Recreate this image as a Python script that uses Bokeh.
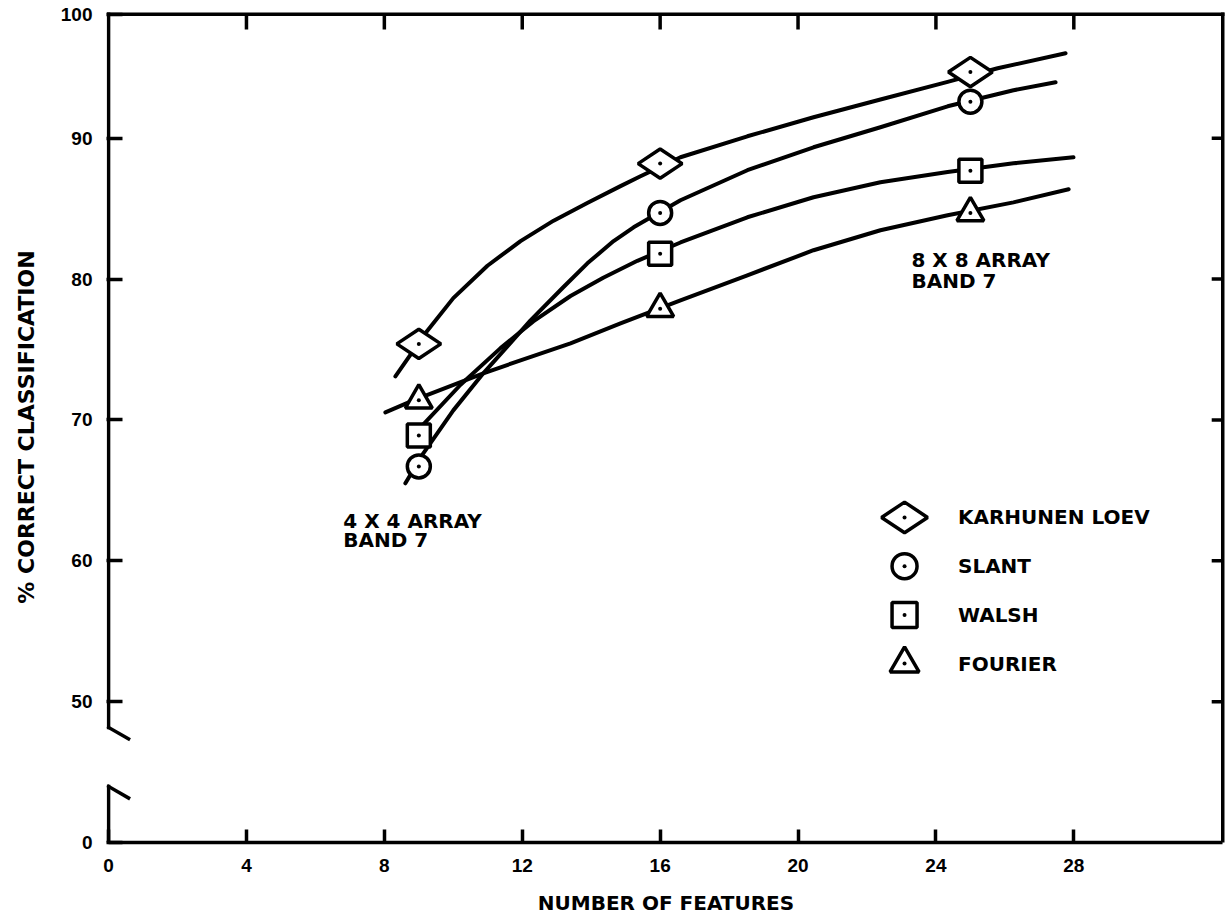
import math
from bokeh.plotting import figure
from bokeh.models import Range1d, FixedTicker
from bokeh.core.properties import value
from bokeh.embed import file_html
from bokeh.resources import INLINE

# ---------------- data ----------------
x_ticks = [0, 4, 8, 12, 16, 20, 24, 28]
y_ticks = [40, 50, 60, 70, 80, 90, 98.8]          # 40 is shown as "0" (broken axis)
y_tick_labels = {40: "0", 98.8: "100"}

feature_counts = [9, 16, 25]
kl_values = [75.4, 88.2, 94.7]
slant_values = [66.7, 84.7, 92.6]
walsh_values = [68.9, 81.8, 87.7]
fourier_values = [71.4, 77.9, 84.7]

kl_curve_x = [8.32, 9.19, 10.0, 10.99, 11.95, 12.91, 13.90, 14.85, 15.43, 16.59, 18.53, 20.45, 22.39, 24.34, 25.79, 27.76]
kl_curve_y = [73.1, 76.15, 78.65, 80.95, 82.7, 84.15, 85.42, 86.6, 87.3, 88.65, 90.14, 91.49, 92.75, 94.0, 94.97, 96.04]

slant_curve_x = [8.61, 9.13, 10.0, 10.87, 12.24, 13.19, 13.89, 14.65, 15.23, 16.59, 18.53, 20.45, 22.39, 24.34, 26.25, 27.47]
slant_curve_y = [65.5, 67.63, 70.68, 73.31, 77.07, 79.42, 81.12, 82.7, 83.68, 85.6, 87.73, 89.36, 90.78, 92.27, 93.41, 93.98]

walsh_curve_x = [9.05, 10.21, 11.37, 12.32, 13.40, 14.35, 15.34, 16.59, 18.53, 20.45, 22.39, 24.34, 26.25, 27.99]
walsh_curve_y = [69.47, 72.5, 75.1, 77.0, 78.8, 80.1, 81.3, 82.6, 84.39, 85.81, 86.88, 87.6, 88.22, 88.65]

fourier_curve_x = [8.03, 8.84, 10.87, 11.95, 13.40, 14.85, 16.59, 18.53, 20.45, 22.39, 24.34, 26.25, 27.85]
fourier_curve_y = [70.54, 71.39, 73.31, 74.23, 75.44, 76.86, 78.49, 80.27, 82.05, 83.47, 84.53, 85.45, 86.38]

legend_labels = ["KARHUNEN LOEV", "SLANT", "WALSH", "FOURIER"]
note_left = ["4 X 4 ARRAY", "BAND 7"]
note_right = ["8 X 8 ARRAY", "BAND 7"]

# ---------------- figure ----------------
TEXT_FONT = "DejaVu Sans"
TICK_FONT = "Liberation Sans"
BLACK = "#000000"
LW = 3.5

x_left, x_right = 0, 32.32          # drawn frame edges (data units)
y_bottom, y_top = 40, 98.8

p = figure(width=1227, height=919,
           x_range=Range1d(-0.06, 32.4), y_range=Range1d(y_bottom, 99.0),
           min_border_left=106, min_border_right=2, min_border_top=11, min_border_bottom=77,
           output_backend="svg", toolbar_location=None)
p.grid.visible = False
p.outline_line_color = None
p.background_fill_color = "white"
p.border_fill_color = "white"

# bottom axis
xa = p.xaxis[0]
xa.ticker = FixedTicker(ticks=x_ticks)
xa.bounds = (x_left, x_right)
xa.major_tick_in = 13
xa.major_tick_out = 0
xa.minor_tick_line_color = None
xa.major_tick_line_width = LW
xa.axis_line_width = LW
xa.axis_line_color = BLACK
xa.major_tick_line_color = BLACK
xa.major_label_text_font = TICK_FONT
xa.major_label_text_font_style = "bold"
xa.major_label_text_font_size = "19px"
xa.major_label_text_color = BLACK
xa.major_label_standoff = 16
xa.axis_label = "NUMBER OF FEATURES"
xa.axis_label_text_font = TEXT_FONT
xa.axis_label_text_font_style = "bold"
xa.axis_label_text_font_size = "20px"
xa.axis_label_text_color = BLACK
xa.axis_label_standoff = 16

# left axis (line drawn by hand to show the break)
ya = p.yaxis[0]
ya.ticker = FixedTicker(ticks=y_ticks)
ya.major_label_overrides = y_tick_labels
ya.major_tick_in = 16
ya.major_tick_out = 0
ya.minor_tick_line_color = None
ya.major_tick_line_width = LW
ya.major_tick_line_color = BLACK
ya.axis_line_color = None
ya.major_label_text_font = TICK_FONT
ya.major_label_text_font_style = "bold"
ya.major_label_text_font_size = "19px"
ya.major_label_text_color = BLACK
ya.major_label_standoff = 14
ya.axis_label = "% CORRECT CLASSIFICATION"
ya.axis_label_text_font = TEXT_FONT
ya.axis_label_text_font_style = "bold"
ya.axis_label_text_font_size = "22px"
ya.axis_label_text_color = BLACK
ya.axis_label_standoff = 19

# frame: left line with break, top and right lines
brk_low, brk_high, brk_dx, brk_dy = 43.98, 48.17, 0.58, 0.82
p.segment(x0=[x_left, x_left, x_left, x_left, x_left, x_right],
          y0=[y_bottom, brk_low, brk_high, brk_high, y_top, y_bottom],
          x1=[x_left, x_left + brk_dx, x_left, x_left + brk_dx, x_right, x_right],
          y1=[brk_low, brk_low - brk_dy, y_top, brk_high - brk_dy, y_top, y_top],
          line_color=BLACK, line_width=LW, line_cap="square")

# inward ticks on top and right edges
top_tick_len = 1.07      # data units (~15 px)
right_tick_len = 0.32    # data units (~11 px)
top_ticks = x_ticks[1:]
right_ticks = y_ticks[1:-1]
p.segment(x0=top_ticks, y0=[y_top] * len(top_ticks),
          x1=top_ticks, y1=[y_top - top_tick_len] * len(top_ticks),
          line_color=BLACK, line_width=LW)
p.segment(x0=[x_right] * len(right_ticks), y0=right_ticks,
          x1=[x_right - right_tick_len] * len(right_ticks), y1=right_ticks,
          line_color=BLACK, line_width=LW)

# curves
for cx, cy in [(kl_curve_x, kl_curve_y), (slant_curve_x, slant_curve_y),
               (walsh_curve_x, walsh_curve_y), (fourier_curve_x, fourier_curve_y)]:
    p.line(cx, cy, line_color=BLACK, line_width=4, line_join="round", line_cap="round")

# markers
marker_specs = [
    ("diamond", kl_values, 44, math.pi / 2),
    ("circle", slant_values, 23, 0),
    ("square", walsh_values, 23, 0),
    ("triangle", fourier_values, 27, 0),
]
for mk, vals, sz, ang in marker_specs:
    p.scatter(feature_counts, vals, marker=mk, size=sz, angle=ang,
              fill_color="white", line_color=BLACK, line_width=LW)
    p.scatter(feature_counts, vals, marker="circle", size=4, fill_color=BLACK, line_color=None)

# legend (hand-built key)
leg_x, leg_y0, leg_step, leg_text_dx = 23.09, 63.08, 3.46, 1.55
leg_y = [leg_y0 - i * leg_step for i in range(len(legend_labels))]
for i, (mk, vals, sz, ang) in enumerate(marker_specs):
    p.scatter([leg_x], [leg_y[i]], marker=mk, size=sz + 2, angle=ang,
              fill_color="white", line_color=BLACK, line_width=LW)
    p.scatter([leg_x], [leg_y[i]], marker="circle", size=4, fill_color=BLACK, line_color=None)
p.text(x=[leg_x + leg_text_dx] * len(legend_labels), y=leg_y, text=legend_labels,
       text_font=value(TEXT_FONT), text_font_style="bold", text_font_size="20px",
       text_color=BLACK, text_align="left", text_baseline="middle")

# notes
p.text(x=[6.81, 6.81], y=[62.8, 61.45], text=note_left,
       text_font=value(TEXT_FONT), text_font_style="bold", text_font_size="20px",
       text_color=BLACK, text_align="left", text_baseline="middle")
p.text(x=[23.29, 23.29], y=[81.33, 79.84], text=note_right,
       text_font=value(TEXT_FONT), text_font_style="bold", text_font_size="20px",
       text_color=BLACK, text_align="left", text_baseline="middle")

open("out.html", "w").write(file_html(p, INLINE))
